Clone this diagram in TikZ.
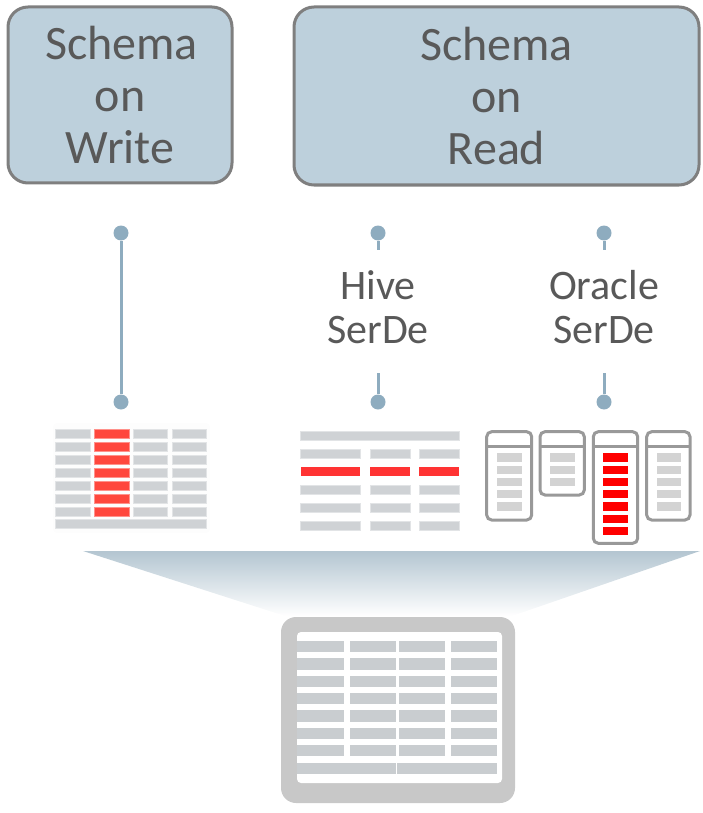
\documentclass[tikz,border=0pt]{standalone}
\usepackage{fontspec}
\setmainfont{Carlito}
\definecolor{boxfill}{HTML}{BDD0DC}
\definecolor{boxline}{HTML}{7F7F7F}
\definecolor{txt}{HTML}{595959}
\definecolor{conn}{HTML}{8EACBF}
\definecolor{cellgray}{HTML}{CFD2D5}
\definecolor{cellred}{HTML}{FF473D}
\definecolor{cellredB}{HTML}{FF3333}
\definecolor{colline}{HTML}{999999}
\definecolor{colcell}{HTML}{D3D3D3}
\definecolor{tabgray}{HTML}{C8C8C8}
\definecolor{tabcell}{HTML}{C9CDD0}
\begin{document}
\begin{tikzpicture}[x=1pt,y=-1pt,
  topbox/.style={draw=boxline, line width=3pt, fill=boxfill, rounded corners=20pt,
    text=txt, align=center, font=\fontsize{48}{52}\selectfont, inner sep=0pt},
  serde/.style={text=txt, align=center, font=\fontsize{42}{44}\selectfont,
    inner sep=0pt, minimum height=123pt},
  dot/.style={circle, fill=conn, minimum size=15pt, inner sep=0pt},
  connline/.style={draw=conn, line width=3pt},
  gcell/.style={fill=cellgray, draw=cellgray!60!white, line width=0.6pt},
  rcell/.style={fill=cellred, draw=cellred!60!white, line width=0.6pt},
  colbox/.style={draw=colline, line width=3pt, rounded corners=5pt, fill=white}]
\useasboundingbox (0,0) rectangle (702,813);

% headline boxes
\node[topbox, minimum width=224pt, minimum height=176pt] (sow) at (120,95) {\hspace*{3pt}Schema\\on\\Write};
\node[topbox, minimum width=405pt, minimum height=178pt] (sor) at (496.5,96) {Schema\\on\\Read};

% connector: schema on write
\node[dot] (w1) at (121,233) {};
\node[dot] (w2) at (121,402) {};
\draw[connline] (w1) -- (w2);

% connector: Hive SerDe
\node[dot] (h1) at (378,233) {};
\node[dot] (h2) at (378,402) {};
\node[serde] (hive) at (378,311.5) {\raisebox{4pt}[\height][\depth]{\parbox{120pt}{\centering Hive\\SerDe}}};
\draw[connline] (h1) -- (hive);
\draw[connline] (hive) -- (h2);

% connector: Oracle SerDe
\node[dot] (o1) at (604,233) {};
\node[dot] (o2) at (604,402) {};
\node[serde] (ora) at (604,311.5) {\raisebox{4pt}[\height][\depth]{\parbox{130pt}{\centering Oracle\\SerDe}}};
\draw[connline] (o1) -- (ora);
\draw[connline] (ora) -- (o2);

% row-oriented table with one highlighted column
\fill[white!97!black, opacity=0.3, rounded corners=4pt] (53,423) rectangle (210,533);
\foreach \r in {0,...,6}{
  \pgfmathsetmacro{\yy}{429.3+13*\r}
  \draw[gcell] (55.7,\yy) rectangle (90,\yy+8.7);
  \draw[rcell] (94.3,\yy) rectangle (129,\yy+8.7);
  \draw[gcell] (133,\yy) rectangle (167.7,\yy+8.7);
  \draw[gcell] (172,\yy) rectangle (206.3,\yy+8.7);
}
\draw[gcell] (55.7,519) rectangle (206.3,528.3);

% table with one highlighted row
\draw[gcell] (300.7,431.7) rectangle (459.3,440);
\foreach \r in {0,...,4}{
  \pgfmathsetmacro{\yy}{449.3+18*\r}
  \ifnum\r=1
    \fill[cellredB] (300.7,\yy) rectangle (360.3,\yy+8.7);
    \fill[cellredB] (370,\yy) rectangle (410,\yy+8.7);
    \fill[cellredB] (419.3,\yy) rectangle (459.3,\yy+8.7);
  \else
    \draw[gcell] (300.7,\yy) rectangle (360.3,\yy+8.7);
    \draw[gcell] (370,\yy) rectangle (410,\yy+8.7);
    \draw[gcell] (419.3,\yy) rectangle (459.3,\yy+8.7);
  \fi
}

% column stores
\foreach \xa/\xb/\yb/\n/\cx/\cw/\cc in {
  486.7/531.7/520/5/496.7/25/colcell,
  540/584.3/495/3/550/25/colcell,
  593.3/637.7/543.3/7/603.3/24.4/red,
  646.7/690/520/5/656.7/24/colcell}{
  \draw[colbox] (\xa,431.7) rectangle (\xb,\yb);
  \draw[draw=colline, line width=3pt] (\xa,446) -- (\xb,446);
  \foreach \k in {1,...,\n}{
    \pgfmathsetmacro{\yy}{453.3+12.25*(\k-1)}
    \fill[\cc] (\cx,\yy) rectangle (\cx+\cw,\yy+8.4);
  }
}

% funnel into the shared store
\shade[top color=boxfill!95!black, bottom color=white]
  (83,551) -- (700,551) -- (512,616) -- (285,616) -- cycle;

% shared table store
\fill[tabgray, rounded corners=15pt] (281,617) rectangle (515,803);
\fill[white, rounded corners=4pt] (297,632) rectangle (502,783);
\foreach \r in {0,...,6}{
  \pgfmathsetmacro{\yy}{641+17.33*\r}
  \fill[tabcell] (297.3,\yy) rectangle (344,\yy+11.3);
  \fill[tabcell] (350,\yy) rectangle (396,\yy+11.3);
  \fill[tabcell] (399,\yy) rectangle (445,\yy+11.3);
  \fill[tabcell] (451,\yy) rectangle (496.7,\yy+11.3);
}
\fill[tabcell] (297.3,762.7) rectangle (396,774.3);
\fill[tabcell] (397,762.7) rectangle (496.7,774.3);
\end{tikzpicture}
\end{document}
